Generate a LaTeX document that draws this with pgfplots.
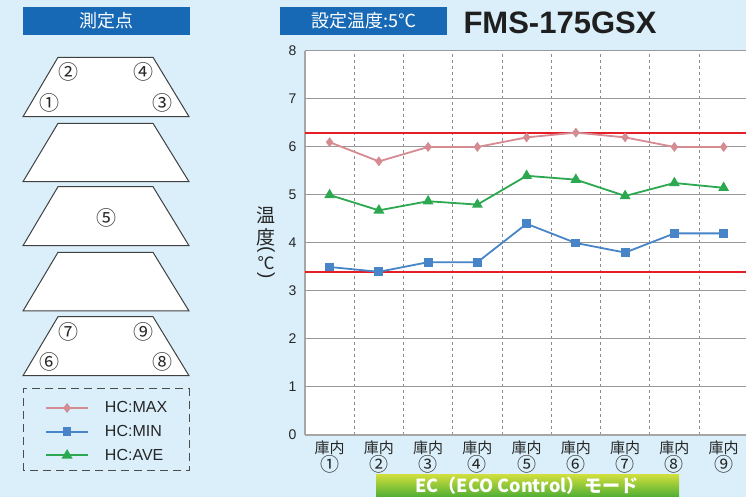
\documentclass[border=0pt]{standalone}
\usepackage{pgfplots}
\pgfplotsset{compat=1.18}
\usepackage{fontspec}
\setmainfont{Liberation Sans}
\newfontfamily\jp{Noto Sans CJK JP}
\definecolor{bgblue}{RGB}{218,239,250}
\definecolor{hdrblue}{RGB}{23,105,181}
\definecolor{cmax}{RGB}{213,139,146}
\definecolor{cmin}{RGB}{72,133,200}
\definecolor{cave}{RGB}{44,168,80}
\definecolor{cred}{RGB}{230,30,40}
\definecolor{gtop}{RGB}{205,222,60}
\definecolor{gbot}{RGB}{78,174,52}
\newcommand{\cn}[1]{{\fontsize{19}{18}\selectfont #1}}
\begin{document}
\begin{tikzpicture}[x=1pt,y=1pt]
\useasboundingbox (0,0) rectangle (746,497);
\fill[bgblue] (0,0) rectangle (746,497);
\begin{axis}[
  at={(305pt,62pt)}, anchor=south west, scale only axis,
  width=443.25pt, height=384pt,
  xmin=0.5, xmax=9.5, ymin=0, ymax=8,
  axis background/.style={fill=white},
  axis x line*=bottom, axis y line*=left,
  axis line style={-, draw=black!35, line width=1.4pt},
  xtick={1,...,9},
  xticklabels={{庫内\\\cn{①}},{庫内\\\cn{②}},{庫内\\\cn{③}},{庫内\\\cn{④}},{庫内\\\cn{⑤}},{庫内\\\cn{⑥}},{庫内\\\cn{⑦}},{庫内\\\cn{⑧}},{庫内\\\cn{⑨}}},
  minor xtick={1.5,2.5,...,9.5},
  xminorgrids, ymajorgrids,
  minor grid style={dash pattern=on 3pt off 3pt, draw=black!45, line width=0.8pt},
  major grid style={draw=black!40, line width=1pt},
  ytick={0,...,8},
  major tick length=0pt, minor tick length=0pt,
  tick style={draw=none},
  xticklabel style={font=\jp\fontsize{15}{17}\selectfont, align=center, text=black!85, yshift=-2pt},
  yticklabel style={font=\fontsize{14}{14}\selectfont, xshift=-5pt, text=black!85},
  /pgf/number format/assume math mode=true,
  legend entries={HC:MAX, HC:MIN, HC:AVE},
  legend cell align=left,
  legend image code/.code={\draw[mark repeat=2,mark phase=2,#1] plot coordinates {(0pt,0pt) (21pt,0pt) (42pt,0pt)};},
  legend style={at={(axis description cs:-0.5866,0.0086)}, anchor=west, draw=none, fill=none,
    inner sep=0pt, nodes={inner sep=0pt, text=black!85}, row sep=11pt, column sep=16pt,
    font=\fontsize{16}{16}\selectfont},
]
\addplot[cred, line width=2pt, forget plot] coordinates {(0.5,6.3) (9.5,6.3)};
\addplot[cred, line width=2pt, forget plot] coordinates {(0.5,3.4) (9.5,3.4)};
\addplot[cmax, line width=1.8pt, mark=diamond*, mark size=3.5pt, mark options={solid}] coordinates {
(1,6.1) (2,5.7) (3,6.0) (4,6.0) (5,6.2) (6,6.3) (7,6.2) (8,6.0) (9,6.0)};
\addplot[cmin, line width=1.8pt, mark=square*, mark size=3.5pt, mark options={solid}] coordinates {
(1,3.5) (2,3.4) (3,3.6) (4,3.6) (5,4.4) (6,4.0) (7,3.8) (8,4.2) (9,4.2)};
\addplot[cave, line width=1.8pt, mark=triangle*, mark size=4.5pt, mark options={solid}] coordinates {
(1,5.0) (2,4.68) (3,4.87) (4,4.8) (5,5.4) (6,5.32) (7,4.98) (8,5.25) (9,5.15)};
\end{axis}
% headers
\fill[hdrblue] (23,462) rectangle (190,490);
\node[text=white, font=\jp\fontsize{18}{18}\selectfont] at (106.5,476) {測定点};
\fill[hdrblue] (280,462) rectangle (447,490);
\node[text=white, font=\jp\fontsize{18}{18}\selectfont] at (363.5,476) {設定温度:5℃};
\node[font=\fontsize{31}{31}\selectfont\bfseries, text=black!88] at (560,474.5) {FMS-175GSX};
% trapezoids
\foreach \t/\b in {439.7/380.3, 373.7/315.3, 310.3/251.3, 244.7/186, 180.3/121.3}
  \draw[fill=white, draw=black!75, line width=1pt] (58,\t) -- (153,\t) -- (189,\b) -- (23,\b) -- cycle;
\begin{scope}[every node/.style={font=\jp\fontsize{20}{20}\selectfont, text=black!85}]
\node at (68,425) {②}; \node at (143,425) {④};
\node at (49,394) {①}; \node at (162,394) {③};
\node at (106,279) {⑤};
\node at (68,165) {⑦}; \node at (143,165) {⑨};
\node at (49,135) {⑥}; \node at (162,135) {⑧};
\end{scope}
% legend frame
\draw[dash pattern=on 8pt off 5pt, draw=black!70, line width=1pt] (23,26) rectangle (189,108);
% y label
\node[font=\jp\fontsize{19}{19}\selectfont, text=black!85] at (266,282) {温};
\node[font=\jp\fontsize{19}{19}\selectfont, text=black!85] at (266,260) {度};
\node[rotate=-90, font=\fontsize{19}{19}\selectfont, text=black!85] at (266,247) {(};
\node[font=\jp\fontsize{17}{17}\selectfont, text=black!85] at (266,234) {℃};
\node[rotate=-90, font=\fontsize{19}{19}\selectfont, text=black!85] at (266,221) {)};
% green bar
\shade[top color=gtop, bottom color=gbot] (376,0) rectangle (679,22);
\node[text=white, font=\jp\bfseries\fontsize{18}{18}\selectfont] at (527,11.2) {EC（ECO Control）モード};
\end{tikzpicture}
\end{document}
